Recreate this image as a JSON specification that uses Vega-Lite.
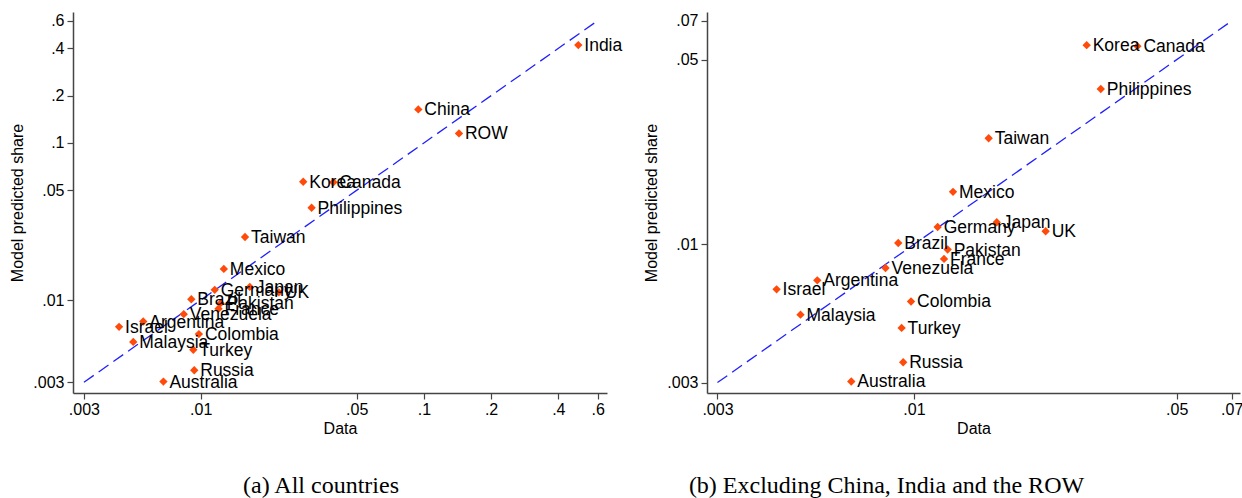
{
  "$schema": "https://vega.github.io/schema/vega-lite/v6.json",
  "background": "white",
  "padding": {"left": 9, "top": 12, "right": 0, "bottom": 0},
  "datasets": {
    "countries": [
      {"country": "India", "data": 0.4916, "model": 0.4195},
      {"country": "China", "data": 0.0944, "model": 0.1636},
      {"country": "ROW", "data": 0.1436, "model": 0.1151},
      {"country": "Korea", "data": 0.0288, "model": 0.0567},
      {"country": "Canada", "data": 0.0393, "model": 0.0562},
      {"country": "Philippines", "data": 0.0314, "model": 0.0387},
      {"country": "Taiwan", "data": 0.0158, "model": 0.0252},
      {"country": "Mexico", "data": 0.0127, "model": 0.0158},
      {"country": "Germany", "data": 0.01156, "model": 0.01163},
      {"country": "Japan", "data": 0.0166, "model": 0.01213},
      {"country": "UK", "data": 0.0224, "model": 0.01121},
      {"country": "Brazil", "data": 0.00908, "model": 0.01012},
      {"country": "Pakistan", "data": 0.01229, "model": 0.00956},
      {"country": "France", "data": 0.01202, "model": 0.00881},
      {"country": "Venezuela", "data": 0.0084, "model": 0.00814},
      {"country": "Argentina", "data": 0.00553, "model": 0.00731},
      {"country": "Israel", "data": 0.00431, "model": 0.00676},
      {"country": "Malaysia", "data": 0.00499, "model": 0.00542},
      {"country": "Colombia", "data": 0.00982, "model": 0.00608},
      {"country": "Turkey", "data": 0.00927, "model": 0.00483},
      {"country": "Russia", "data": 0.00936, "model": 0.00358},
      {"country": "Australia", "data": 0.00681, "model": 0.00303}
    ],
    "diagA": [{"data": 0.003, "model": 0.003}, {"data": 0.6, "model": 0.6}],
    "diagB": [{"data": 0.003, "model": 0.003}, {"data": 0.07, "model": 0.07}]
  },
  "config": {
    "view": {"stroke": null},
    "font": "Liberation Sans",
    "axis": {
      "grid": false,
      "domainColor": "#444",
      "domainWidth": 1.5,
      "tickColor": "#444",
      "tickWidth": 1.2,
      "tickSize": 6,
      "labelFont": "Liberation Sans",
      "labelFontSize": 16,
      "labelColor": "#000",
      "titleFont": "Liberation Sans",
      "titleFontSize": 16,
      "titleFontWeight": "normal",
      "titleColor": "#000",
      "labelExpr": "slice(toString(datum.value), 1)"
    },
    "axisY": {"labelPadding": 3, "titlePadding": 7, "labelAngle": 0},
    "axisX": {"labelPadding": 2, "titlePadding": 3}
  },
  "hconcat": [
    {
      "width": 534,
      "height": 381,
      "title": {"text": "(a) All countries", "orient": "bottom", "font": "Liberation Serif", "fontSize": 24, "fontWeight": "normal", "color": "#000", "offset": 38, "dx": -19, "anchor": "middle", "frame": "group"},
      "layer": [
        {
          "data": {"name": "diagA"},
          "mark": {"type": "line", "color": "#2020ff", "strokeWidth": 1.3, "strokeDash": [12, 6]},
          "encoding": {
            "x": {"field": "data", "type": "quantitative", "scale": {"type": "log", "domain": [0.00268, 0.661], "nice": false}, "axis": {"title": "Data", "values": [0.003, 0.01, 0.05, 0.1, 0.2, 0.4, 0.6]}},
            "y": {"field": "model", "type": "quantitative", "scale": {"type": "log", "domain": [0.002564, 0.6816], "nice": false}, "axis": {"title": "Model predicted share", "values": [0.003, 0.01, 0.05, 0.1, 0.2, 0.4, 0.6]}}
          }
        },
        {
          "data": {"name": "countries"},
          "mark": {"type": "point", "shape": "diamond", "filled": true, "size": 70, "color": "#ff4a0a", "opacity": 1},
          "encoding": {
            "x": {"field": "data", "type": "quantitative"},
            "y": {"field": "model", "type": "quantitative"}
          }
        },
        {
          "data": {"name": "countries"},
          "mark": {"type": "text", "align": "left", "baseline": "middle", "dx": 6, "dy": 1, "fontSize": 17.5, "font": "Liberation Sans", "color": "#000"},
          "encoding": {
            "x": {"field": "data", "type": "quantitative"},
            "y": {"field": "model", "type": "quantitative"},
            "text": {"field": "country"}
          }
        }
      ]
    },
    {
      "width": 533,
      "height": 381,
      "title": {"text": "(b) Excluding China, India and the ROW", "orient": "bottom", "font": "Liberation Serif", "fontSize": 24, "fontWeight": "normal", "color": "#000", "offset": 38, "dx": -87, "anchor": "middle", "frame": "group"},
      "layer": [
        {
          "data": {"name": "diagB"},
          "mark": {"type": "line", "color": "#2020ff", "strokeWidth": 1.3, "strokeDash": [12, 6]},
          "encoding": {
            "x": {"field": "data", "type": "quantitative", "scale": {"type": "log", "domain": [0.002814, 0.07367], "nice": false}, "axis": {"title": "Data", "values": [0.003, 0.01, 0.05, 0.07]}},
            "y": {"field": "model", "type": "quantitative", "scale": {"type": "log", "domain": [0.00274, 0.07569], "nice": false}, "axis": {"title": "Model predicted share", "values": [0.003, 0.01, 0.05, 0.07]}}
          }
        },
        {
          "data": {"name": "countries"},
          "transform": [{"filter": {"not": {"field": "country", "oneOf": ["China", "India", "ROW"]}}}],
          "mark": {"type": "point", "shape": "diamond", "filled": true, "size": 70, "color": "#ff4a0a", "opacity": 1},
          "encoding": {
            "x": {"field": "data", "type": "quantitative"},
            "y": {"field": "model", "type": "quantitative"}
          }
        },
        {
          "data": {"name": "countries"},
          "transform": [{"filter": {"not": {"field": "country", "oneOf": ["China", "India", "ROW"]}}}],
          "mark": {"type": "text", "align": "left", "baseline": "middle", "dx": 6, "dy": 1, "fontSize": 17.5, "font": "Liberation Sans", "color": "#000"},
          "encoding": {
            "x": {"field": "data", "type": "quantitative"},
            "y": {"field": "model", "type": "quantitative"},
            "text": {"field": "country"}
          }
        }
      ]
    }
  ],
  "bounds": "flush",
  "spacing": 100
}
